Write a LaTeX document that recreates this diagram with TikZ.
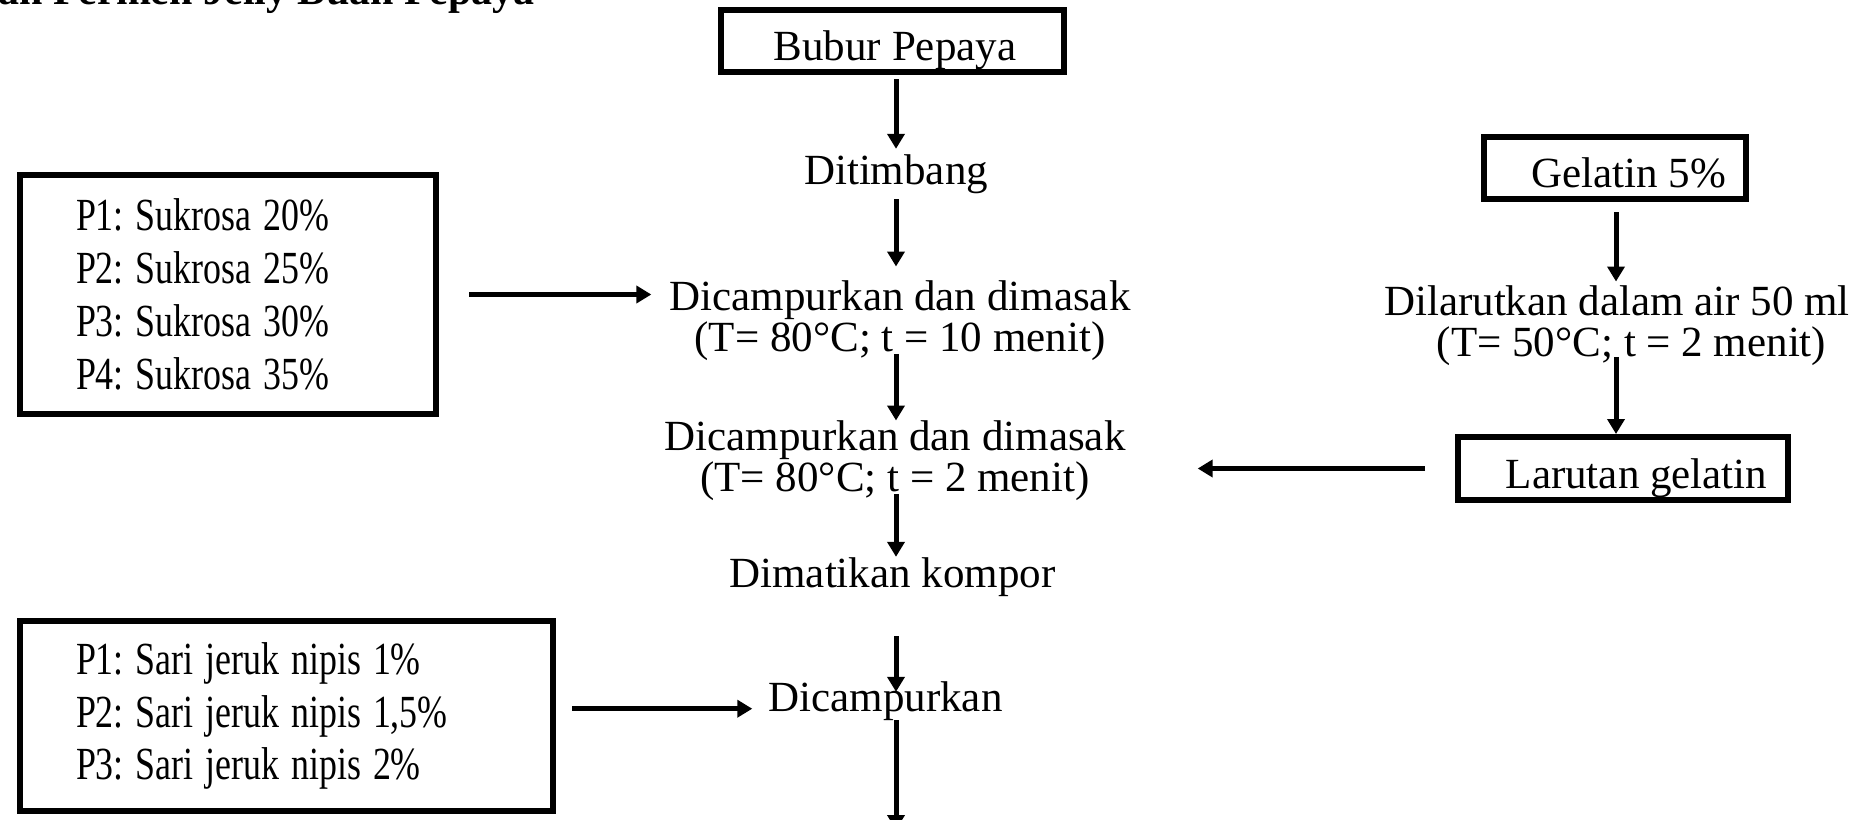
\documentclass[tikz,border=0pt]{standalone}
\usepackage{fontspec}
\setmainfont{Liberation Serif}
\usetikzlibrary{arrows.meta,calc}
\frenchspacing
\begin{document}
\begin{tikzpicture}[x=1pt,y=-1pt,
  every node/.style={font=\fontsize{43}{41}\selectfont, inner sep=0pt},
  txt/.style={text height=30pt, text depth=9pt},
  multi/.style={align=center, anchor=north},
  boxnode/.style={draw, line width=6pt},
  leftbox/.style={boxnode, anchor=north west, align=left, inner xsep=56pt, inner ysep=0pt},
  titlestyle/.style={font=\fontsize{42}{50}\selectfont\bfseries},
  arr/.style={line width=5pt, -{Triangle[length=15pt,width=17pt]}},
]
\useasboundingbox (0,0) rectangle (1857,819);
\clip (0,0) rectangle (1857,819);

% title (cut off at the top)
\node[titlestyle, anchor=base west] (title) at (-2,5) {an Permen Jelly Buah Pepaya};

% centre column
\node[boxnode, minimum width=343pt, minimum height=62pt, text height=38pt, text depth=0pt] (bubur) at (892,41) {\hspace*{6pt}Bubur Pepaya};
\node[txt, anchor=base] (dit) at (896,184) {Ditimbang};
\node[multi] (mix1) at (900,280.5) {Dicampurkan dan dimasak\\(T= 80°C; t = 10 menit)};
\node[multi] (mix2) at (895,420.5) {Dicampurkan dan dimasak\\(T= 80°C; t = 2 menit)};
\node[txt, anchor=base] (kom) at (892.5,587) {Dimatikan kompor};
\node[txt, anchor=base] (dic) at (885.5,711) {Dicampurkan};
\coordinate (endc) at (896,830);

% left boxes
\node[leftbox, text width=304pt, minimum width=416pt, minimum height=239pt, font=\fontsize{46}{53}\selectfont] (box1) at (17,172)
  {\scalebox{0.78}[1]{P1: Sukrosa 20\%}\\\scalebox{0.78}[1]{P2: Sukrosa 25\%}\\\scalebox{0.78}[1]{P3: Sukrosa 30\%}\\\scalebox{0.78}[1]{P4: Sukrosa 35\%}};
\node[leftbox, text width=421pt, minimum width=533pt, minimum height=190pt, font=\fontsize{46}{52.5}\selectfont] (box2) at (17,618)
  {\scalebox{0.78}[1]{P1: Sari jeruk nipis 1\%}\\\scalebox{0.78}[1]{P2: Sari jeruk nipis 1,5\%}\\\scalebox{0.78}[1]{P3: Sari jeruk nipis 2\%}};

% right column
\node[boxnode, minimum width=262pt, minimum height=62pt, text height=38pt, text depth=0pt] (gel) at (1615,168) {\hspace*{27pt}Gelatin 5\%};
\node[multi] (dil) at (1617,285.5) {Dilarutkan dalam air 50 ml\\\hspace*{29pt}(T= 50°C; t = 2 menit)};
\node[boxnode, minimum width=330pt, minimum height=63pt, text height=39pt, text depth=0pt] (lar) at (1623,468.5) {\hspace*{27pt}Larutan gelatin};
\coordinate (gx) at ([xshift=1pt]gel.south);

% centre arrows
\draw[arr, shorten <=4pt, shorten >=5pt] (bubur.south -| dit) -- (dit.north);
\draw[arr, shorten <=6pt, shorten >=14pt] (dit.south) -- (dit |- mix1.north);
\draw[arr, shorten <=-7pt] (dit |- mix1.south) -- (dit |- mix2.north);
\draw[arr, shorten <=-7pt] (dit |- mix2.south) -- (dit |- kom.north);
\draw[arr, shorten <=40pt, shorten >=-11pt] (dit |- kom.south) -- (dit |- dic.north);
\draw[arr] (dit |- dic.south) -- (endc);

% side arrows
\draw[arr, shorten <=30pt, shorten >=18pt] (box1.east) -- (box1.east -| mix1.west);
\draw[arr, shorten <=16pt, shorten >=16pt] (box2.east |- dic.mid) -- (dic.mid west);
\draw[arr, shorten <=30pt, shorten >=72pt] (lar.west) -- (lar.west -| mix2.east);

% right arrows
\draw[arr, shorten <=10pt, shorten >=4pt] (gx) -- (gx |- dil.north);
\draw[arr, shorten <=-9pt] (gx |- dil.south) -- (gx |- lar.north);
\end{tikzpicture}
\end{document}
